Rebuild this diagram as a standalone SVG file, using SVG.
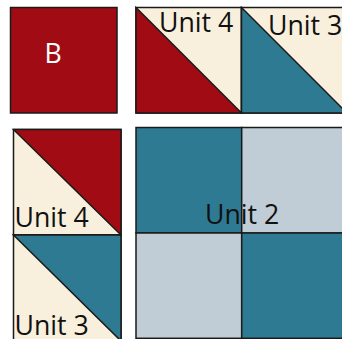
<svg xmlns="http://www.w3.org/2000/svg" width="342" height="339" viewBox="0 0 342 339">
<style>
.s{stroke:#1a1a1a;stroke-width:1.5;stroke-linejoin:miter}
.red{fill:#A10C14}
.teal{fill:#2E7A93}
.cream{fill:#F8F0DC}
.grey{fill:#C0CCD6}
.t{font-family:"Open Sans","Noto Sans","DejaVu Sans",sans-serif;font-size:26.7px;fill:#111}
.w{fill:#fff}
</style>
<rect width="342" height="339" fill="#fff"/>
<g id="nodeB">
<rect class="s red" x="10.5" y="7.5" width="106.5" height="105.5"/>
<text class="t w" x="44.5" y="62.7">B</text>
</g>
<g id="unit4-top">
<rect class="s cream" x="136" y="7.5" width="105.5" height="105.5"/>
<polygon class="s red" points="136,7.5 241.5,113 136,113"/>
<text class="t" x="159" y="31.7">Unit 4</text>
</g>
<g id="unit3-top">
<rect class="s cream" x="241.5" y="7.5" width="105.5" height="105.5"/>
<polygon class="s teal" points="241.5,7.5 347,113 241.5,113"/>
<text class="t" x="268" y="35">Unit 3</text>
</g>
<g id="unit4-left">
<rect class="s cream" x="13.5" y="129.5" width="107.5" height="105.5"/>
<polygon class="s red" points="13.5,129.5 121,129.5 121,235"/>
<text class="t" x="14.5" y="227.3">Unit 4</text>
</g>
<g id="unit3-left">
<rect class="s cream" x="13.5" y="235" width="107.5" height="106"/>
<polygon class="s teal" points="13.5,235 121,235 121,341"/>
<text class="t" x="14.5" y="335">Unit 3</text>
</g>
<g id="unit2">
<rect class="s teal" x="136" y="127.5" width="105.7" height="105.5"/>
<rect class="s grey" x="241.7" y="127.5" width="105.5" height="105.5"/>
<rect class="s grey" x="136" y="233" width="105.7" height="105.3"/>
<rect class="s teal" x="241.7" y="233" width="105.5" height="105.3"/>
<text class="t" x="205" y="224.3">Unit 2</text>
</g>
<g id="connectors"></g>
</svg>
